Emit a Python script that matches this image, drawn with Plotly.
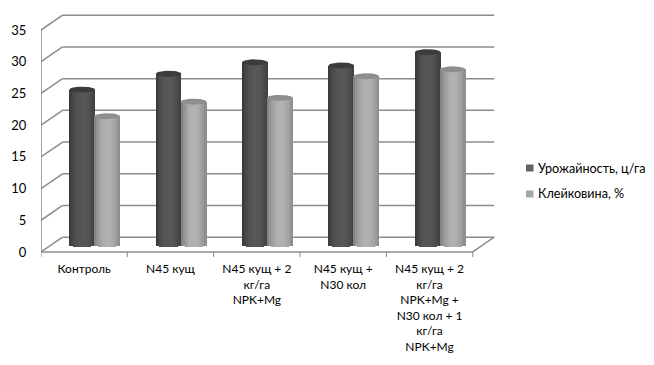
import numpy as np
import plotly.graph_objects as go

categories = ["Контроль", "N45 кущ", "N45 кущ + 2<br>кг/га<br>NPK+Mg", "N45 кущ +<br>N30 кол",
              "N45 кущ + 2<br>кг/га<br>NPK+Mg +<br>N30 кол + 1<br>кг/га<br>NPK+Mg"]
yield_values = [24.5, 27.0, 28.8, 28.3, 30.4]
gluten_values = [20.3, 22.6, 23.2, 26.6, 27.7]
series_names = ["Урожайность, ц/га", "Клейковина, %"]
y_ticks = [0, 5, 10, 15, 20, 25, 30, 35]

PX_X = 86.2          # px per category
PX_Y = 6.343         # px per unit
DX = 21.5 / PX_X     # perspective shift of the back wall
DY = 14.8 / PX_Y
FLOOR = 7 / PX_Y     # bars stand in the middle of the floor
HALF_W = 12.8 / PX_X
TOP_E = 3.0 / PX_Y
BOT_E = 2.2 / PX_Y
GRID = "#8c8c8c"

N = 13
t = (np.arange(N) + 0.5) / N * 2 - 1
shade = np.cos(np.clip((t - 0.05) * 0.9, -1, 1) * np.pi / 2) ** 0.7


def strip_colors(lo, hi):
    return [f"rgb({int(lo + (hi - lo) * s)},{int(lo + (hi - lo) * s)},{int(lo + (hi - lo) * s)})" for s in shade]


styles = [
    dict(vals=yield_values, off=-2 / PX_X, cols=strip_colors(46, 88), top="#3c3c3c", name=series_names[0], key="#636363"),
    dict(vals=gluten_values, off=23 / PX_X, cols=strip_colors(112, 178), top="#8e8e8e", name=series_names[1], key="#a6a6a6"),
]

fig = go.Figure()
xs = np.arange(len(categories))

for st in styles:
    for k in range(N):
        lift = BOT_E * np.sqrt(max(0, 1 - t[k] ** 2))
        base = FLOOR - lift
        fig.add_trace(go.Bar(
            x=xs + st["off"] + t[k] * HALF_W,
            y=[v + lift for v in st["vals"]],
            base=base,
            width=2.3 * HALF_W / N,
            marker=dict(color=st["cols"][k], line=dict(width=0)),
            showlegend=False, hoverinfo="skip",
        ))
    th = np.linspace(0, 2 * np.pi, 41)
    ex, ey = [], []
    for i, v in enumerate(st["vals"]):
        ex += list(i + st["off"] + HALF_W * np.cos(th)) + [None]
        ey += list(v + FLOOR + TOP_E * np.sin(th)) + [None]
    fig.add_trace(go.Scatter(x=ex, y=ey, mode="lines", fill="toself", fillcolor=st["top"],
                             line=dict(width=0), showlegend=False, hoverinfo="skip"))

x0, x1 = -0.5, len(categories) - 0.5
shapes = []
line = dict(color=GRID, width=1.5)
for v in y_ticks:
    shapes.append(dict(type="line", layer="below", x0=x0 + DX, x1=x1 + DX, y0=v + DY, y1=v + DY, line=line))
    shapes.append(dict(type="line", layer="below", x0=x0, x1=x0 + DX, y0=v, y1=v + DY, line=line))
# front axis, floor edge and category ticks
shapes.append(dict(type="line", layer="below", x0=x0, x1=x0, y0=0, y1=y_ticks[-1], line=dict(color=GRID, width=1.6)))
shapes.append(dict(type="line", layer="below", x0=x0, x1=x1, y0=0, y1=0, line=line))
shapes.append(dict(type="line", layer="below", x0=x1, x1=x1 + DX, y0=0, y1=DY, line=line))
for i in range(len(categories) + 1):
    shapes.append(dict(type="line", layer="below", x0=x0 + i, x1=x0 + i, y0=0, y1=-0.8, line=dict(color=GRID, width=1)))

font = dict(family="Lato, 'Open Sans', sans-serif", size=12, color="#000000")

# legend: keys and labels placed to the right of the plot
W, H = 654, 365
annotations = []
for st, cy in zip(styles, [168, 194]):
    shapes.append(dict(type="rect", xref="paper", yref="paper", x0=(526 - 41) / 455, x1=(533.5 - 41) / 455,
                       y0=(258 - cy - 3.5) / 246, y1=(258 - cy + 3.5) / 246, fillcolor=st["key"], line=dict(width=0)))
    annotations.append(dict(xref="paper", yref="paper", x=(535.5 - 41) / 455, y=(258 - cy) / 246, text=st["name"],
                            showarrow=False, xanchor="left", yanchor="middle", font=dict(font, size=12.6)))

fig.update_layout(
    width=W, height=H, autosize=False,
    margin=dict(l=41, r=158, t=12, b=107, pad=0),
    paper_bgcolor="white", plot_bgcolor="white",
    barmode="overlay", bargap=0, showlegend=False,
    font=font, shapes=shapes, annotations=annotations,
    xaxis=dict(range=[x0, x1 + DX + 0.02], tickmode="array", tickvals=list(xs), ticktext=categories,
               showgrid=False, zeroline=False, showline=False, ticks="", tickangle=0, tickfont=font,
               ticklabelstandoff=2, automargin=False, fixedrange=True),
    yaxis=dict(range=[-0.95, 37.84], tickmode="array", tickvals=y_ticks, showgrid=False, zeroline=False,
               showline=False, ticks="outside", ticklen=11, tickcolor="rgba(0,0,0,0)", tickfont=dict(font, size=13),
               automargin=False, fixedrange=True),
)
fig.write_html("out.html", config=dict(displayModeBar=False),
               post_script="document.body.style.margin='0';")
